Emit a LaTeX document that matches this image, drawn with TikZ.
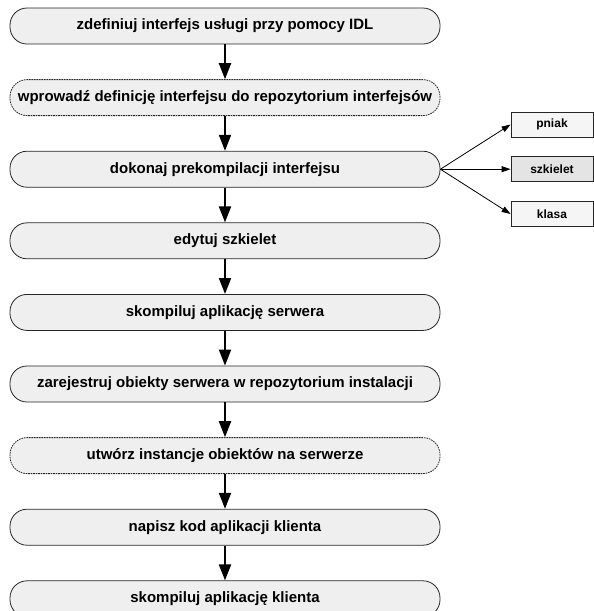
\documentclass[tikz,border=0pt]{standalone}
\usepackage{fontspec}
\setmainfont{Liberation Sans}
\usetikzlibrary{arrows.meta}
\definecolor{boxfill}{HTML}{EFEFEF}
\definecolor{sfill}{HTML}{F5F5F5}
\definecolor{sfilld}{HTML}{E4E4E4}
\tikzset{
  stage/.style={draw=black!85, line width=0.8pt, fill=boxfill, rounded corners=17pt,
    minimum width=430pt, minimum height=36pt, inner sep=0pt,
    font=\fontsize{15}{18}\selectfont\bfseries},
  stagedash/.style={stage, dash pattern=on 1.6pt off 0.9pt},
  outbox/.style={draw=black!85, line width=0.8pt, fill=sfill, minimum width=82pt,
    minimum height=25pt, inner sep=0pt, font=\fontsize{12}{14}\selectfont\bfseries},
  flow/.style={line width=2pt, -{Triangle[length=16pt,width=12pt]}},
  prod/.style={line width=0.8pt, -{Triangle[length=9pt,width=6pt]}}
}
\begin{document}
\begin{tikzpicture}[x=1pt,y=-1pt]
\clip (0,0) rectangle (594,611);
\useasboundingbox (0,0) rectangle (594,611);
\node[stage] (s1) at (225,26) {zdefiniuj interfejs usługi przy pomocy IDL};
\node[stagedash] (s2) at (225,97.6) {wprowadź definicję interfejsu do repozytorium interfejsów};
\node[stage] (s3) at (225,169.2) {dokonaj prekompilacji interfejsu};
\node[stage] (s4) at (225,240.8) {edytuj szkielet};
\node[stage] (s5) at (225,312.4) {skompiluj aplikację serwera};
\node[stage] (s6) at (225,384) {zarejestruj obiekty serwera w repozytorium instalacji};
\node[stagedash] (s7) at (225,455.6) {utwórz instancje obiektów na serwerze};
\node[stage] (s8) at (225,527.2) {napisz kod aplikacji klienta};
\node[stage] (s9) at (225,598.8) {skompiluj aplikację klienta};
\node[outbox] (pn) at (552,124.5) {pniak};
\node[outbox, fill=sfilld] (sz) at (552,169.2) {szkielet};
\node[outbox] (kl) at (552,214) {klasa};
\foreach \a/\b in {s1/s2,s2/s3,s3/s4,s4/s5,s5/s6,s6/s7,s7/s8,s8/s9}
  \draw[flow] (\a.south) -- (\b.north);
\draw[prod] (s3.east) -- (pn.west);
\draw[prod] (s3.east) -- (sz.west);
\draw[prod] (s3.east) -- (kl.west);
\end{tikzpicture}
\end{document}
